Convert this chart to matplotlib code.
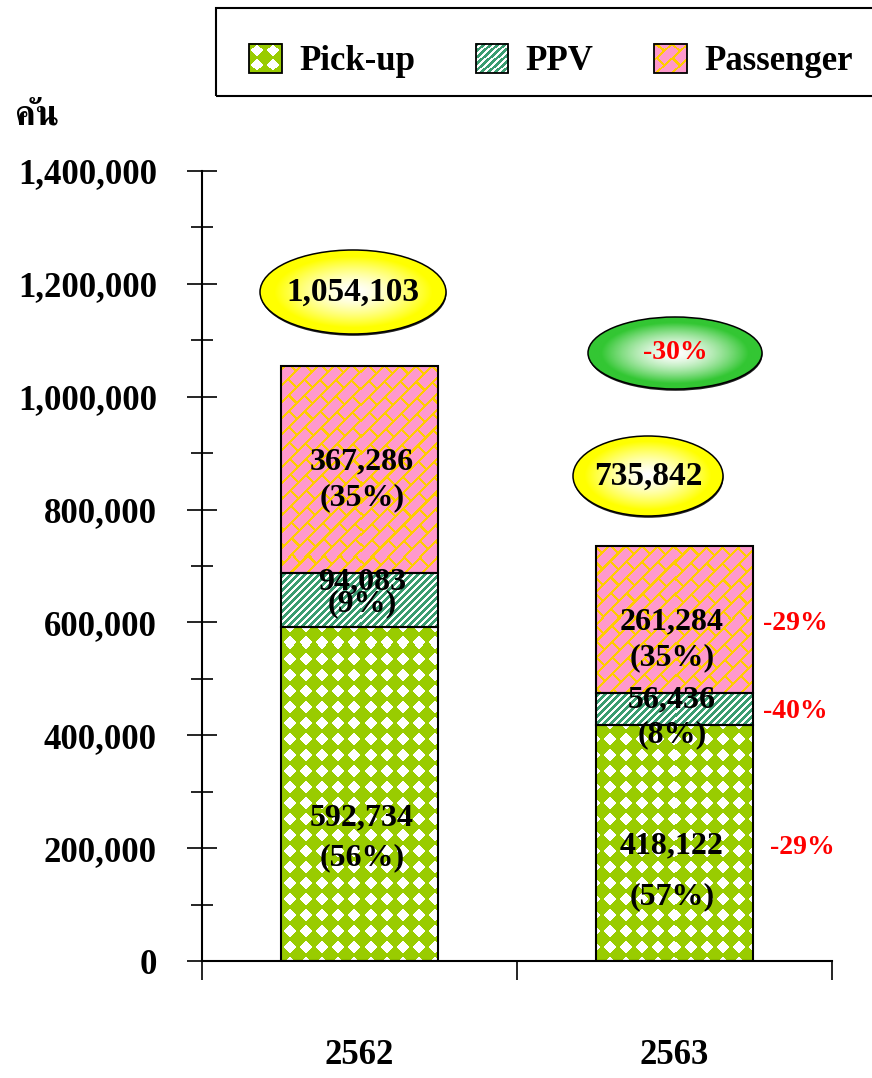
import numpy as np
import matplotlib
matplotlib.use("Agg")
import matplotlib.pyplot as plt
from matplotlib.patches import Ellipse, Rectangle, Patch
from matplotlib.legend_handler import HandlerBase
from matplotlib.image import BboxImage
from matplotlib.transforms import Bbox, TransformedBbox
from matplotlib.ticker import FuncFormatter, MultipleLocator

plt.rcParams['font.family'] = ['Liberation Serif', 'FreeSerif']
plt.rcParams['font.weight'] = 'bold'

# data (units: cars)
years = ['2562', '2563']
pickup = [592734, 418122]
ppv = [94083, 56436]
passenger = [367286, 261284]
pickup_pct = ['(56%)', '(57%)']
ppv_pct = ['(9%)', '(8%)']
passenger_pct = ['(35%)', '(35%)']
change = ['-29%', '-40%', '-29%']   # pickup, ppv, passenger
total_change = '-30%'
series_names = ['Pick-up', 'PPV', 'Passenger']

GREEN = np.array([0x99, 0xCC, 0x00]) / 255
STRIPE = np.array([0x3A, 0x9C, 0x70]) / 255
PINK = np.array([0xFF, 0x99, 0xCC]) / 255
GOLD = np.array([0xFF, 0xCC, 0x00]) / 255

W, H = 872, 1078
AX_L, AX_B, AX_W, AX_H = 202, 961, 630, 790   # pixels (bottom measured from top)
YMAX = 1400000


def px2x(px):
    return (px - AX_L) / (AX_W / 2)


def py2y(py):
    return (AX_B - py) / AX_H * YMAX


# textures -----------------------------------------------------------
def tex_pickup(h, w):
    py, px = np.mgrid[0:h, 0:w]
    dx = (px % 16) - 7.5
    dy = (py % 16) - 7.5
    img = np.empty((h, w, 3))
    img[:] = GREEN
    img[(np.abs(dx) + np.abs(dy)) < 7.0] = 1.0
    return img


def tex_ppv(h, w):
    py, px = np.mgrid[0:h, 0:w]
    img = np.ones((h, w, 3))
    img[((px + py) % 7) < 3.2] = STRIPE
    return img


def tex_passenger(h, w):
    py, px = np.mgrid[0:h, 0:w]
    b = (px + py) / np.sqrt(2)
    a = (px - py) / np.sqrt(2)
    row = np.floor(b / 11.5)
    mortar = ((b % 11.5) < 2.2) | (((a + row * 11) % 22) < 2.2)
    img = np.empty((h, w, 3))
    img[:] = PINK
    img[mortar] = GOLD
    return img


textures = [tex_pickup, tex_ppv, tex_passenger]
base_cols = [GREEN, 'white', PINK]


class TextureHandler(HandlerBase):
    def __init__(self, tex):
        super().__init__()
        self.tex = tex

    def create_artists(self, legend, orig_handle, xdescent, ydescent,
                       width, height, fontsize, trans):
        bb = Bbox.from_bounds(-xdescent, -ydescent, width, height)
        im = BboxImage(TransformedBbox(bb, trans), interpolation='nearest')
        im.set_data(self.tex)
        r = Rectangle((-xdescent, -ydescent), width, height, fill=False,
                      edgecolor='black', lw=1.3, transform=trans)
        return [im, r]


def gradient(color, n=200):
    yy, xx = np.mgrid[-1:1:n * 1j, -1:1:n * 1j]
    t = np.clip(np.sqrt(xx ** 2 + yy ** 2) / 0.85, 0, 1) ** 1.5
    img = np.ones((n, n, 3)) * (1 - t[..., None]) + np.array(color)[None, None, :] * t[..., None]
    return img


def bubble(ax, cx, cy, pw, ph, color, text, tcolor, fs):
    x, y = px2x(cx), py2y(cy)
    w = pw / (AX_W / 2)
    h = ph / AX_H * YMAX
    sh = Ellipse((x + 0.5 / 315, y - 1.8 / AX_H * YMAX), w, h, facecolor='#222222',
                 edgecolor='none', zorder=4)
    ax.add_patch(sh)
    e = Ellipse((x, y), w, h, facecolor='none', edgecolor='black', lw=1.1, zorder=6)
    ax.add_patch(e)
    im = ax.imshow(gradient(color), extent=(x - w / 2, x + w / 2, y - h / 2, y + h / 2),
                   aspect='auto', zorder=5, interpolation='bilinear')
    im.set_clip_path(e)
    ax.text(x, y, text, ha='center', va='center', fontsize=fs, color=tcolor,
            fontweight='bold', zorder=7)


fig = plt.figure(figsize=(W / 100, H / 100), dpi=100)
ax = fig.add_axes([AX_L / W, (H - AX_B) / H, AX_W / W, AX_H / H])

xpos = np.array([0.5, 1.5])
bottoms = np.zeros(2)
for vals, tex, col in zip([pickup, ppv, passenger], textures, base_cols):
    bars = ax.bar(xpos, vals, 0.5, bottom=bottoms, color=col, edgecolor='none', zorder=2)
    img = tex(AX_H, AX_W)
    for rect in bars:
        im = ax.imshow(img, extent=(0, 2, 0, YMAX), aspect='auto', interpolation='nearest',
                       zorder=2.5)
        im.set_clip_path(rect)
    ax.bar(xpos, vals, 0.5, bottom=bottoms, fill=False, edgecolor='black', lw=1.5, zorder=3)
    bottoms = bottoms + np.array(vals)

totals = [p + v + s for p, v, s in zip(pickup, ppv, passenger)]

# value labels
lab_x = [362, 672]
lab_y = {  # pixel rows of (value, percent) for each column
    'pickup': [(818, 858), (846, 897)],
    'ppv': [(582, 604), (700, 735)],
    'passenger': [(462, 498), (622, 658)],
}
for i in range(2):
    for key, vals, pcts in [('pickup', pickup, pickup_pct), ('ppv', ppv, ppv_pct),
                            ('passenger', passenger, passenger_pct)]:
        vy, py_ = lab_y[key][i]
        ax.text(px2x(lab_x[i]), py2y(vy), f'{vals[i]:,}', ha='center', va='center',
                fontsize=23, zorder=8)
        ax.text(px2x(lab_x[i]), py2y(py_), pcts[i], ha='center', va='center',
                fontsize=23, zorder=8)

# change labels
for (cx, cy), t in zip([(802, 848), (795, 712), (795, 623)], change):
    ax.text(px2x(cx), py2y(cy), t, ha='center', va='center', fontsize=20,
            color='red', zorder=8)

bubble(ax, 353, 292, 186, 84, (1, 1, 0), f'{totals[0]:,}', 'black', 24)
bubble(ax, 648, 476, 150, 80, (1, 1, 0), f'{totals[1]:,}', 'black', 24)
bubble(ax, 675, 353, 174, 72, (0.2, 0.78, 0.2), total_change, 'red', 20)

ax.set_xlim(0, 2)
ax.set_ylim(0, YMAX)
for s in ['top', 'right']:
    ax.spines[s].set_visible(False)
ax.spines['left'].set_linewidth(1.5)
ax.spines['bottom'].set_linewidth(1.5)

ax.yaxis.set_major_locator(MultipleLocator(200000))
ax.yaxis.set_minor_locator(MultipleLocator(100000))
ax.yaxis.set_major_formatter(FuncFormatter(lambda v, p: f'{int(v):,}'))
ax.tick_params(axis='y', which='major', direction='inout', length=21, width=1.2,
               pad=22, labelsize=25)
ax.tick_params(axis='y', which='minor', direction='inout', length=16, width=1.2)

ax.set_xticks([0, 1, 2])
ax.set_xticklabels([])
ax.set_xticks(xpos, years, minor=True)
ax.tick_params(axis='x', which='major', direction='out', length=14, width=1.2)
ax.tick_params(axis='x', which='minor', length=0, pad=56, labelsize=25)

fig.text(15 / W, 1 - 125 / H, 'คัน', family='FreeSerif', fontweight='bold',
         fontsize=25, va='baseline', ha='left')

# legend
fig.patches.append(Rectangle((216 / W, 1 - 96 / H), 700 / W, 88 / H, fill=False,
                             edgecolor='black', lw=1.5, transform=fig.transFigure))
handles = [Patch(label=n) for n in series_names]
hmap = {h: TextureHandler(tex(33, 33)) for h, tex in zip(handles, textures)}
fig.legend(handles=handles, loc='center left', bbox_to_anchor=(249 / W, 1 - 61 / H),
           ncol=3, frameon=False, fontsize=25, handlelength=0.94, handleheight=0.94,
           handletextpad=0.5, columnspacing=1.75, borderpad=0, borderaxespad=0,
           handler_map=hmap)

fig.savefig('out.png', dpi=100)
